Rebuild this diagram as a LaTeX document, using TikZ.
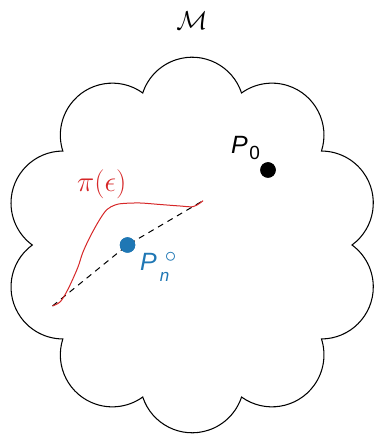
\documentclass[tikz,border=0pt]{standalone}
\usepackage{graphicx}
\usepackage{fontspec}
\usetikzlibrary{calc}
\newfontfamily\lsans{Liberation Sans}
\definecolor{tabred}{HTML}{D62728}
\definecolor{tabblue}{HTML}{1F77B4}
\begin{document}
\begin{tikzpicture}[x=1pt,y=1pt,
  dot/.style={circle, fill, inner sep=0pt, minimum size=15.5pt},
  lbl/.style={inner sep=0pt, anchor=base west},
  outline/.style={line width=1.05pt},
  thin line/.style={line width=1pt},
  dashline/.style={thin line, dash pattern=on 6pt off 5pt},
]
\useasboundingbox (0,0) rectangle (373,434);
\coordinate (c) at (192,189);
% manifold cloud
\draw[outline] ($(c)+(0:160)$)
  \foreach \k in {0,...,9}{ arc[start angle={36*\k-53.8}, delta angle=143.6, radius=52] } -- cycle;
% title
\node[inner sep=0pt, anchor=base] (mlab) at (192,404) {\scalebox{1.25}{\fontsize{20}{24}\selectfont$\mathcal{M}$}};
% end points
\coordinate (a) at (52.5,128);
\coordinate (b) at (203,233.3);
% dots
\node[dot, tabblue] (pn) at (127.5,189) {};
\node[dot] (p0) at (268,264) {};
% dashed path
\draw[dashline] (a) -- (pn.center) -- (b);
% red curve
\draw[thin line, tabred] plot[smooth, tension=0.55] coordinates {(a) (60,132) (66,141) (71,151) (78,167) (83,182) (91,199) (100,215) (107,224.5) (115,229) (123,230.5) (140,231) (160,229.5) (180,228) (193,227.3) (200,231) (b)};
% redraw dots on top
\node[dot, tabblue] at (pn) {};
\node[dot] at (p0) {};
% labels
\node[lbl, tabred] (pilab) at (77,242) {\scalebox{1.4}{\fontsize{20}{24}\selectfont$\pi(\epsilon)$}};
\node[lbl] (p0lab) at (231,280.7) {\fontsize{25}{30}\selectfont\lsans\itshape P\kern1.5pt\raisebox{-6.7pt}{\fontsize{19}{20}\selectfont\upshape 0}};
\node[lbl, tabblue] (pnlab) at (140,163) {\fontsize{25}{30}\selectfont\lsans\itshape P\rlap{\kern3pt\raisebox{-10.5pt}{\fontsize{17}{20}\selectfont n}}\kern8pt\raisebox{8.5pt}{\scalebox{2.3}{\fontsize{10}{12}\selectfont$\circ$}}};
\end{tikzpicture}
\end{document}
